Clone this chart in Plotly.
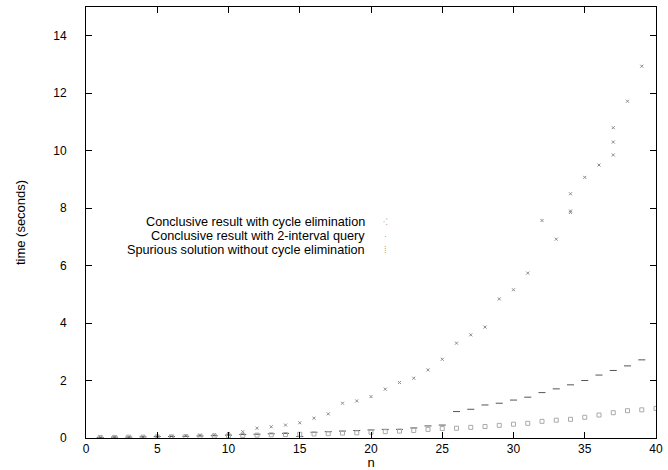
import plotly.graph_objects as go

# ---- data ----
n_cycle = list(range(1, 40)) + [34, 34, 37, 37]
t_cycle = [0.02, 0.03, 0.03, 0.04, 0.05, 0.06, 0.08, 0.10, 0.12, 0.16,
           0.22, 0.34, 0.39, 0.45, 0.53, 0.69, 0.84, 1.21, 1.29, 1.44,
           1.70, 1.93, 2.08, 2.37, 2.74, 3.30, 3.59, 3.86, 4.84, 5.16,
           5.74, 7.57, 6.92, 7.90, 9.07, 9.50, 10.30, 11.72, 12.94,
           8.50, 7.85, 9.85, 10.80]

n_query = list(range(1, 40))
t_query = [0.02, 0.03, 0.03, 0.04, 0.05, 0.05, 0.06, 0.07, 0.08, 0.10,
           0.12, 0.13, 0.15, 0.16, 0.05, 0.20, 0.22, 0.24, 0.26, 0.28,
           0.30, 0.30, 0.35, 0.42, 0.45, 0.92, 1.00, 1.15, 1.21, 1.32,
           1.42, 1.58, 1.71, 1.85, 2.00, 2.19, 2.35, 2.51, 2.72]

n_spur = list(range(1, 41))
t_spur = [0.02, 0.02, 0.03, 0.03, 0.04, 0.04, 0.05, 0.06, 0.07, 0.08,
          0.09, 0.10, 0.11, 0.12, 0.13, 0.14, 0.15, 0.17, 0.18, 0.20,
          0.22, 0.24, 0.26, 0.30, 0.33, 0.34, 0.37, 0.40, 0.44, 0.48,
          0.51, 0.58, 0.62, 0.65, 0.72, 0.80, 0.88, 0.95, 0.98, 1.03]

series_names = ["Conclusive result with cycle elimination",
                "Conclusive result with 2-interval query",
                "Spurious solution without cycle elimination"]

x_ticks = [0, 5, 10, 15, 20, 25, 30, 35, 40]
y_ticks = [0, 2, 4, 6, 8, 10, 12, 14]

FONT = "Liberation Sans, Arial, Helvetica, sans-serif"

fig = go.Figure()
fig.add_trace(go.Scatter(x=n_cycle, y=t_cycle, mode="markers", name=series_names[0],
                         marker=dict(symbol="x-thin", size=3, color="#8a8a8a",
                                     line=dict(width=1, color="#8a8a8a"))))
fig.add_trace(go.Scatter(x=n_query, y=t_query, mode="markers", name=series_names[1],
                         marker=dict(symbol="line-ew", size=5, color="#555",
                                     line=dict(width=1, color="#555"))))
fig.add_trace(go.Scatter(x=n_spur, y=t_spur, mode="markers", name=series_names[2],
                         marker=dict(symbol="square-open", size=4, color="#aaa",
                                     line=dict(width=1, color="#aaa"))))

# legend as right-aligned labels (gnuplot style: text then sample)
legend_y = [0.502, 0.469, 0.436]
legend_glyph = ["⁖", "·", "⁞"]
for name, yy, g in zip(series_names, legend_y, legend_glyph):
    fig.add_annotation(xref="paper", yref="paper", x=0.493, y=yy, text=name,
                       showarrow=False, xanchor="right", yanchor="middle",
                       font=dict(family=FONT, size=12.7, color="#000"))
    fig.add_annotation(xref="paper", yref="paper", x=0.525, y=yy, text=g,
                       showarrow=False, xanchor="center", yanchor="middle",
                       font=dict(family=FONT, size=9, color="#999"))

axis_common = dict(showline=True, linecolor="#000", linewidth=1, mirror="ticks",
                   ticks="inside", ticklen=6, tickcolor="#000", showgrid=False,
                   zeroline=False, tickfont=dict(family=FONT, size=12, color="#000"))

fig.update_xaxes(range=[0, 40], tickvals=x_ticks, ticktext=[str(v) for v in x_ticks],
                 title=dict(text="n", font=dict(family=FONT, size=13, color="#000"),
                            standoff=0),
                 ticklabelstandoff=0, **axis_common)
fig.update_yaxes(range=[0, 15], tickvals=y_ticks, ticktext=[str(v) for v in y_ticks],
                 title=dict(text="time (seconds)", font=dict(family=FONT, size=13, color="#000"),
                            standoff=24),
                 ticklabelstandoff=16, **axis_common)

fig.update_layout(width=668, height=470, showlegend=False,
                  plot_bgcolor="white", paper_bgcolor="white",
                  margin=dict(l=86, r=12, t=7, b=32, autoexpand=False),
                  font=dict(family=FONT, size=12, color="#000"))

fig.write_html("out.html", config={"displayModeBar": False},
               post_script="document.body.style.margin='0';document.body.style.padding='0';")
